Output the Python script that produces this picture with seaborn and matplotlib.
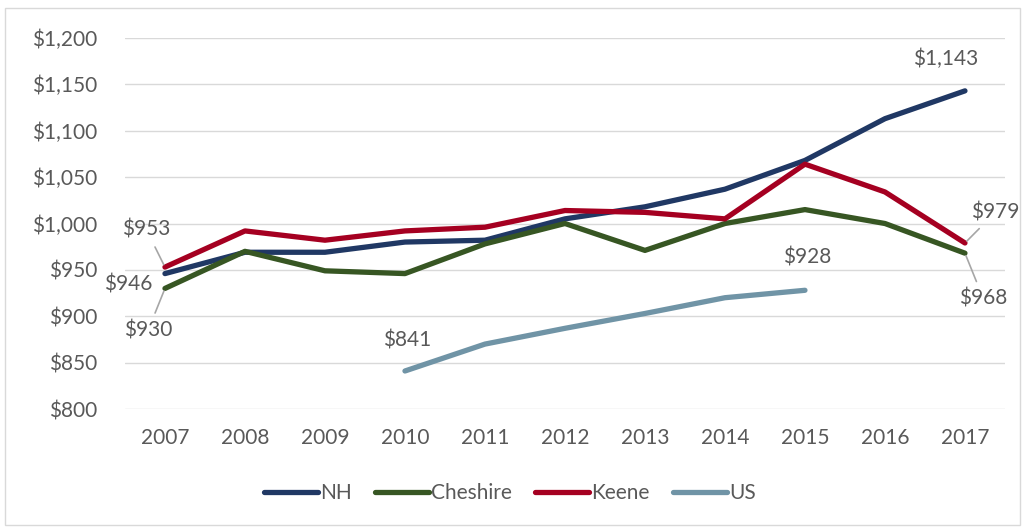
import pandas as pd
import matplotlib.pyplot as plt
import seaborn as sns
from matplotlib.patches import Rectangle

# Dados
years = [2007, 2008, 2009, 2010, 2011, 2012, 2013, 2014, 2015, 2016, 2017]
nh = [946, 969, 969, 980, 982, 1005, 1018, 1037, 1068, 1113, 1143]
cheshire = [930, 970, 949, 946, 978, 1000, 971, 1000, 1015, 1000, 968]
keene = [953, 992, 982, 992, 996, 1014, 1012, 1005, 1064, 1034, 979]
us_years = [2010, 2011, 2012, 2013, 2014, 2015]
us = [841, 870, 887, 903, 920, 928]

series = ['NH', 'Cheshire', 'Keene', 'US']
colors = ['#203864', '#375623', '#A50021', '#7094A6']

df = pd.concat([
    pd.DataFrame({'year': years, 'value': nh, 'series': 'NH'}),
    pd.DataFrame({'year': years, 'value': cheshire, 'series': 'Cheshire'}),
    pd.DataFrame({'year': years, 'value': keene, 'series': 'Keene'}),
    pd.DataFrame({'year': us_years, 'value': us, 'series': 'US'}),
])

sns.set_theme(style='white')
plt.rcParams['font.family'] = ['Lato', 'DejaVu Sans']
gray = '#595959'
fs = 15

fig = plt.figure(figsize=(10.26, 5.29), dpi=100)
ax = fig.add_axes([0.1218, 0.2268, 0.8577, 0.7014])

sns.lineplot(data=df, x='year', y='value', hue='series', hue_order=series,
             palette=colors, linewidth=3.8, ax=ax, solid_capstyle='round')

ax.set_xlim(2006.5, 2017.5)
ax.set_ylim(800, 1200)
ax.set_xticks(years)
ax.set_xticklabels([str(y) for y in years])
ax.set_yticks(range(800, 1201, 50))
ax.set_yticklabels([f'${v:,}' for v in range(800, 1201, 50)])
ax.tick_params(axis='both', colors=gray, labelsize=fs, length=0)
ax.tick_params(axis='y', pad=20)
ax.tick_params(axis='x', pad=14)
ax.set_xlabel('')
ax.set_ylabel('')
ax.yaxis.grid(True, color='#D9D9D9', linewidth=1)
ax.set_axisbelow(True)
for s in ax.spines.values():
    s.set_visible(False)

# Rótulos de dados
labels = [
    (years[0], keene[0], 2006.77, 993, True),
    (years[0], nh[0], 2006.54, 934, False),
    (years[0], cheshire[0], 2006.79, 885, True),
    (us_years[0], us[0], 2010.03, 874, False),
    (us_years[-1], us[-1], 2015.03, 963, False),
    (years[-1], nh[-1], 2016.76, 1177, False),
    (years[-1], keene[-1], 2017.38, 1012, True),
    (years[-1], cheshire[-1], 2017.23, 919, True),
]
for x, v, tx, ty, leader in labels:
    props = None
    if leader:
        props = dict(arrowstyle='-', color='#A6A6A6', lw=1.2, shrinkA=3, shrinkB=2)
    ax.annotate(f'${v:,}', xy=(x, v), xytext=(tx, ty), textcoords='data',
                ha='center', va='center', fontsize=fs, color=gray,
                arrowprops=props, annotation_clip=False)

leg = ax.legend(loc='center', bbox_to_anchor=(0.497, 1 - 493 / 529),
                bbox_transform=fig.transFigure, ncol=4,
                frameon=False, fontsize=fs, handlelength=2.6,
                handletextpad=0.1, columnspacing=1.1)
for t in leg.get_texts():
    t.set_color(gray)
for h in leg.get_lines():
    h.set_linewidth(3.8)
    h.set_solid_capstyle('round')

fig.patches.append(Rectangle((0.005, 0.008), 0.989, 0.976, transform=fig.transFigure,
                             fill=False, edgecolor='#D9D9D9', linewidth=1))

fig.savefig('out.png', dpi=100)
